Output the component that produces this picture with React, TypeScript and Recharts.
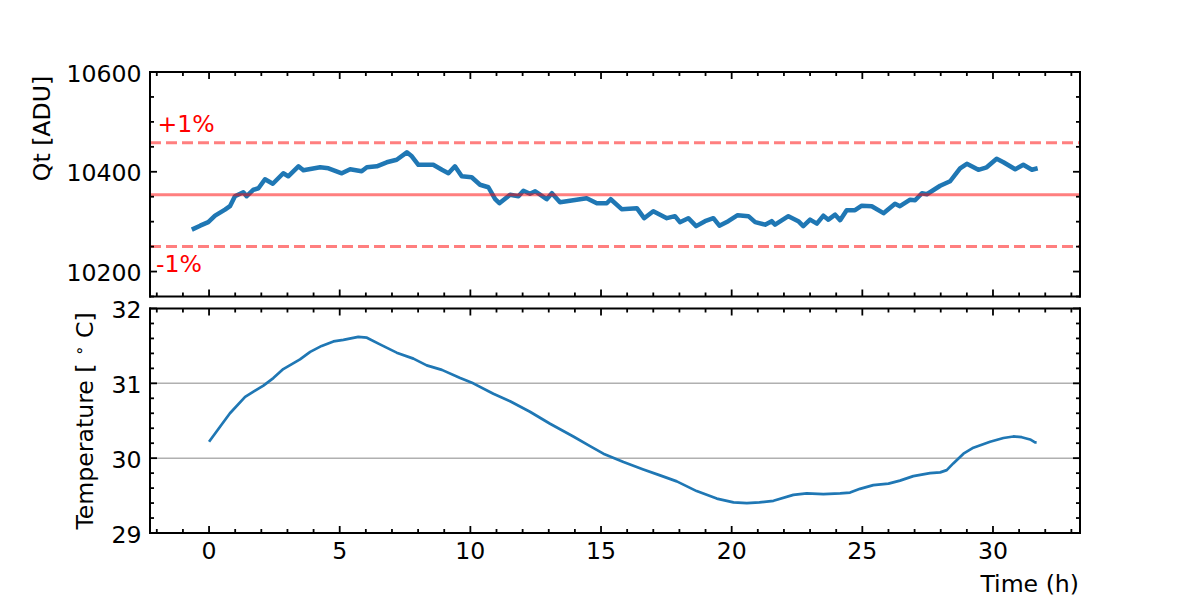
import React from 'react';
import { LineChart, Line, XAxis, YAxis, ReferenceLine, CartesianGrid } from 'recharts';

const FONT = '"DejaVu Sans", sans-serif';
const FS = 23.6;

// ---- Qt series (hours, ADU) ----
const qtHours = [
  -0.66, -0.34, -0.03, 0.23, 0.61, 0.8, 0.99, 1.31, 1.44, 1.7, 1.89, 2.14, 2.44, 2.84, 3.03, 3.42, 3.61,
  4.25, 4.57, 5.08, 5.4, 5.84, 6.04, 6.42, 6.8, 7.18, 7.57, 7.76, 8.01, 8.58, 8.91, 9.16, 9.41, 9.67,
  10.05, 10.37, 10.69, 10.95, 11.11, 11.52, 11.84, 12.03, 12.28, 12.48, 12.92, 13.12, 13.43, 13.94,
  14.45, 14.84, 15.22, 15.37, 15.79, 16.37, 16.65, 17.0, 17.52, 17.83, 18.02, 18.34, 18.64, 18.98,
  19.3, 19.53, 19.87, 20.23, 20.64, 20.9, 21.28, 21.53, 21.66, 22.17, 22.55, 22.74, 23.0, 23.26,
  23.51, 23.7, 23.96, 24.15, 24.4, 24.72, 24.98, 25.36, 25.81, 26.25, 26.44, 26.83, 27.02, 27.28,
  27.47, 27.98, 28.36, 28.74, 29.0, 29.44, 29.76, 30.14, 30.4, 30.85, 31.16, 31.49, 31.71,
];
const qtValues = [
  10284, 10292, 10299, 10312, 10324, 10331, 10351, 10359, 10351, 10364, 10367, 10385, 10376, 10397, 10391, 10411, 10403,
  10409, 10407, 10397, 10405, 10401, 10409, 10411, 10419, 10424, 10439, 10431, 10414, 10414, 10404, 10397, 10411, 10391,
  10389, 10374, 10369, 10345, 10337, 10354, 10351, 10362, 10356, 10361, 10345, 10357, 10339, 10343,
  10347, 10337, 10337, 10345, 10325, 10327, 10307, 10321, 10307, 10311, 10299, 10307, 10291, 10301,
  10307, 10292, 10301, 10313, 10311, 10299, 10294, 10301, 10294, 10311, 10301, 10291, 10304, 10296,
  10312, 10304, 10314, 10303, 10323, 10323, 10332, 10331, 10317, 10336, 10331, 10344, 10343, 10357,
  10355, 10372, 10381, 10407, 10416, 10404, 10409, 10426, 10419, 10405, 10414, 10404, 10407,
];

// ---- Temperature series (hours, deg C) ----
const tempHours = [
  0.0, 0.42, 0.8, 1.38, 1.7, 2.08, 2.46, 2.84, 3.48, 3.87, 4.31, 4.76, 5.14, 5.71, 6.04, 6.54, 7.18,
  7.82, 8.33, 8.91, 9.61, 10.11, 10.88, 11.52, 12.28, 13.05, 13.94, 14.58, 15.09, 15.86, 16.62, 17.26,
  17.9, 18.66, 19.43, 20.07, 20.58, 21.06, 21.6, 22.36, 22.87, 23.51, 24.15, 24.53, 24.91, 25.42, 26.0,
  26.44, 26.95, 27.59, 27.98, 28.23, 28.48, 28.87, 29.25, 29.89, 30.4, 30.78, 31.1, 31.42, 31.61, 31.67,
];
const tempValues = [
  30.22, 30.42, 30.6, 30.82, 30.89, 30.97, 31.07, 31.19, 31.32, 31.42, 31.5, 31.56, 31.58, 31.62, 31.61, 31.52, 31.41,
  31.33, 31.24, 31.18, 31.07, 31.0, 30.86, 30.76, 30.62, 30.46, 30.29, 30.16, 30.06, 29.95, 29.85, 29.77,
  29.69, 29.56, 29.46, 29.41, 29.4, 29.41, 29.43, 29.51, 29.53, 29.52, 29.53, 29.54, 29.59, 29.64, 29.66,
  29.7, 29.76, 29.8, 29.81, 29.84, 29.93, 30.06, 30.14, 30.22, 30.27, 30.29, 30.28, 30.25, 30.21, 30.21,
];

// ---- reference levels (mean and +/-1 %) ----
const bandLevels = [10250, 10354, 10458];
const bandDashed = [true, false, true];
const gridTemps = [30, 31];

// ---- axes ----
const hourDomain = [-2.26, 33.33];
const hourTicks = [-2, -1, 0, 1, 2, 3, 4, 5, 6, 7, 8, 9, 10, 11, 12, 13, 14, 15, 16, 17, 18, 19, 20, 21, 22, 23, 24, 25, 26, 27, 28, 29, 30, 31, 32, 33];
const hourMajor = [0, 5, 10, 15, 20, 25, 30];
const qtDomain = [10150, 10600];
const qtTicks = [10150, 10200, 10250, 10300, 10350, 10400, 10450, 10500, 10550, 10600];
const qtMajor = [10200, 10400, 10600];
const tempDomain = [29, 32];
const tempTicks = [29, 29.2, 29.4, 29.6, 29.8, 30, 30.2, 30.4, 30.6, 30.8, 31, 31.2, 31.4, 31.6, 31.8, 32];
const tempMajor = [29, 30, 31, 32];

const qtData = qtHours.map((h, i) => ({ h, q: qtValues[i] }));
const tempData = tempHours.map((h, i) => ({ h, t: tempValues[i] }));

const SPINE = { stroke: '#000', strokeWidth: 2, strokeLinecap: 'square' as const };

type Side = 'bottom' | 'top' | 'left' | 'right';

function makeTick(side: Side, majors: number[], showLabels: boolean) {
  return (props: any) => {
    const { x, y, payload } = props;
    const v = payload.value as number;
    const isMajor = majors.some((m) => Math.abs(m - v) < 1e-6);
    const len = isMajor ? 7 : 4;
    let x2 = x;
    let y2 = y;
    if (side === 'bottom') y2 = y - len;
    if (side === 'top') y2 = y + len;
    if (side === 'left') x2 = x + len;
    if (side === 'right') x2 = x - len;
    let label: React.ReactNode = null;
    if (showLabels && isMajor) {
      const txt = String(Math.round(v));
      if (side === 'bottom') {
        label = (
          <text x={x} y={y + 26} textAnchor="middle" fontFamily={FONT} fontSize={FS} fill="#000">
            {txt}
          </text>
        );
      } else if (side === 'left') {
        label = (
          <text x={x - 8.5} y={y + 9.5} textAnchor="end" fontFamily={FONT} fontSize={FS} fill="#000">
            {txt}
          </text>
        );
      }
    }
    return (
      <g>
        <line x1={x} y1={y} x2={x2} y2={y2} stroke="#000" strokeWidth={1.8} />
        {label}
      </g>
    );
  };
}

const W = 1200;
const H = 600;
const LEFT = 150;
const RIGHT = 120;
const AX = 1; // axis thickness reserved by Recharts (must be > 0 for it to draw)

function axisCommon() {
  return {
    type: 'number' as const,
    allowDataOverflow: true,
    interval: 0 as const,
    tickSize: 0,
    tickMargin: 0,
    axisLine: SPINE,
    tickLine: false,
  };
}

function Panel(props: {
  data: any[];
  dataKey: string;
  top: number;
  bottom: number;
  yDomain: number[];
  yTicks: number[];
  yMajor: number[];
  xLabels: boolean;
  strokeWidth: number;
  children?: React.ReactNode;
  grid?: number[];
}) {
  return (
    <div style={{ position: 'absolute', left: 0, top: 0 }}>
      <LineChart
        width={W}
        height={H}
        data={props.data}
        margin={{ top: props.top - AX, bottom: H - props.bottom - AX, left: LEFT - AX, right: RIGHT - AX }}
      >
        {props.grid ? (
          <CartesianGrid vertical={false} horizontalValues={props.grid} stroke="#b0b0b0" strokeWidth={1.5} />
        ) : null}
        <XAxis
          {...axisCommon()}
          dataKey="h"
          domain={hourDomain}
          ticks={hourTicks}
          height={AX}
          tick={makeTick('bottom', hourMajor, props.xLabels)}
        />
        <XAxis
          {...axisCommon()}
          xAxisId="top"
          orientation="top"
          dataKey="h"
          domain={hourDomain}
          ticks={hourTicks}
          height={AX}
          tick={makeTick('top', hourMajor, false)}
        />
        <YAxis
          {...axisCommon()}
          domain={props.yDomain}
          ticks={props.yTicks}
          width={AX}
          tick={makeTick('left', props.yMajor, true)}
        />
        <YAxis
          {...axisCommon()}
          yAxisId="right"
          orientation="right"
          domain={props.yDomain}
          ticks={props.yTicks}
          width={AX}
          tick={makeTick('right', props.yMajor, false)}
        />
        {/* invisible twin bound to the top/right axes so they share the same scales */}
        <Line
          xAxisId="top"
          yAxisId="right"
          dataKey={props.dataKey}
          type="linear"
          stroke="none"
          strokeWidth={0}
          dot={false}
          activeDot={false}
          isAnimationActive={false}
        />
        <Line
          dataKey={props.dataKey}
          type="linear"
          stroke="#1f77b4"
          strokeWidth={props.strokeWidth}
          dot={false}
          isAnimationActive={false}
          strokeLinejoin="round"
        />
        {props.children}
      </LineChart>
    </div>
  );
}

export default function App() {
  return (
    <div style={{ position: 'absolute', left: 0, top: 0, width: W, height: H, background: '#fff' }}>
      <Panel
        data={qtData}
        dataKey="q"
        top={72}
        bottom={296.5}
        yDomain={qtDomain}
        yTicks={qtTicks}
        yMajor={qtMajor}
        xLabels={false}
        strokeWidth={4.5}
      >
        {bandLevels.map((lv, i) => (
          <ReferenceLine
            key={lv}
            y={lv}
            stroke="#ff0000"
            strokeOpacity={0.5}
            strokeWidth={3}
            strokeDasharray={bandDashed[i] ? '11 5' : undefined}
          />
        ))}
      </Panel>

      <Panel
        data={tempData}
        dataKey="t"
        top={308.5}
        bottom={533}
        yDomain={tempDomain}
        yTicks={tempTicks}
        yMajor={tempMajor}
        xLabels={true}
        strokeWidth={2.7}
        grid={gridTemps}
      />

      {/* Text overlay: axis titles and band labels */}
      <svg width={W} height={H} style={{ position: 'absolute', left: 0, top: 0, pointerEvents: 'none' }}>
        <text transform="translate(50,128.5) rotate(-90)" textAnchor="middle" fontFamily={FONT} fontSize={FS} fill="#000">
          Qt [ADU]
        </text>
        <text transform="translate(93.2,421) rotate(-90)" textAnchor="middle" fontFamily={FONT} fontSize={FS} fill="#000">
          Temperature [ <tspan fontSize={FS * 0.7} dy={-8}>∘</tspan>
          <tspan dy={8}> C]</tspan>
        </text>
        <text x={1079} y={591.5} textAnchor="end" fontFamily={FONT} fontSize={FS} fill="#000">
          Time (h)
        </text>
        <text x={157.5} y={131.7} fontFamily={FONT} fontSize={FS} fill="#ff0000">
          +1%
        </text>
        <text x={156} y={271.7} fontFamily={FONT} fontSize={FS} fill="#ff0000">
          -1%
        </text>
      </svg>
    </div>
  );
}
